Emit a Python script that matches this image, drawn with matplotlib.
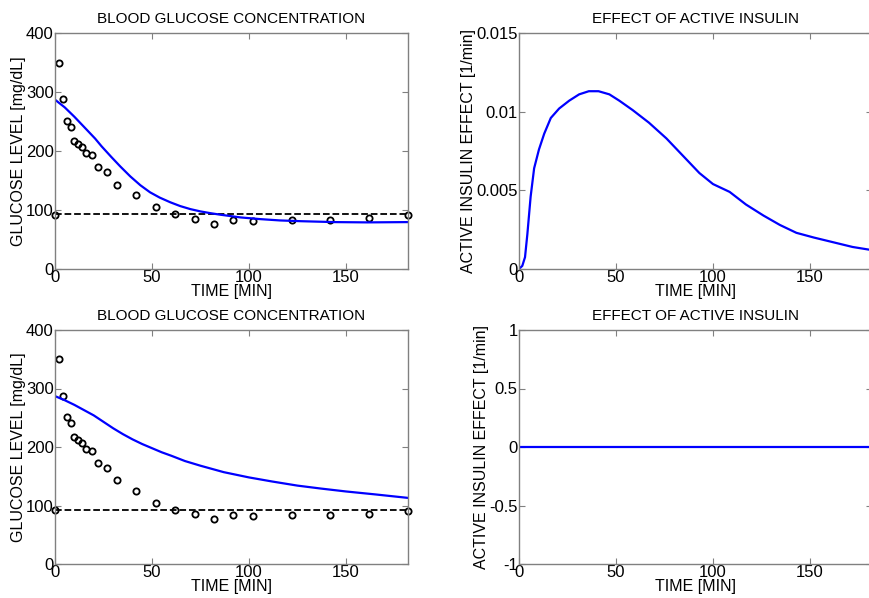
import numpy as np
import matplotlib
matplotlib.use('Agg')
import matplotlib.pyplot as plt

plt.rcParams['font.family'] = ['Liberation Sans', 'DejaVu Sans']

# Measured glucose samples
t_meas = [0, 2, 4, 6, 8, 10, 12, 14, 16, 19, 22, 27, 32, 42, 52, 62, 72, 82, 92, 102, 122, 142, 162, 182]
g_meas = [92, 350, 288, 251, 241, 217, 212, 206, 197, 193, 173, 164, 143, 125, 105, 93, 85, 77, 83, 82, 83, 83, 86, 91]
g_basal = 93

# Model fit, top row (with insulin effect)
t_fit1 = [0, 5, 10, 15.5, 20.7, 24, 29, 33.6, 38.8, 44, 49, 54, 59.5, 64.6, 69.8, 75, 80,
          85.3, 95.7, 106, 116, 127, 144, 161, 182]
g_fit1 = [287, 274, 258, 239, 221, 208, 190, 174, 157, 142, 130, 121, 113, 106.6, 101.5, 97.6, 94.7,
          92, 87.4, 84.5, 82.3, 81, 79.5, 79, 79.5]

# Model fit, bottom row (no insulin effect)
t_fit2 = [0, 5, 10, 15, 20, 25, 30, 35, 40, 45, 50, 55, 60, 67, 75, 87, 100, 112, 125, 137, 150, 165, 182]
g_fit2 = [287, 280, 272, 263, 254, 243, 232, 222, 213, 205, 198, 191, 185, 176, 168, 157, 148, 141,
          134, 129, 124, 119, 113]

# Active insulin effect, top row
t_eff = [0, 1.7, 3.1, 4.3, 6, 7.8, 10.3, 13, 16.4, 20.7, 25.9, 31, 36, 41, 46.6, 51.7, 58.6, 67,
         76, 84.5, 93, 100, 108.6, 117, 126, 134.5, 143, 152, 162, 172, 182]
eff = [0, 0.0002, 0.00075, 0.0022, 0.0046, 0.0064, 0.0076, 0.0086, 0.0096, 0.0102, 0.0107, 0.0111,
       0.0113, 0.0113, 0.0111, 0.0107, 0.0101, 0.0093, 0.0083, 0.0072, 0.0061, 0.0054, 0.0049,
       0.0041, 0.0034, 0.0028, 0.0023, 0.0020, 0.0017, 0.0014, 0.0012]

# Active insulin effect, bottom row (zero)
t_eff0 = [0, 182]
eff0 = [0, 0]

W, H = 869, 598
fig = plt.figure(figsize=(W / 100, H / 100), dpi=100)

def make_ax(x0, y0, x1, y1):
    return fig.add_axes([x0 / W, 1 - y1 / H, (x1 - x0) / W, (y1 - y0) / H])

ax_tl = make_ax(55, 33, 408, 269)
ax_tr = make_ax(519, 33, 872, 269)
ax_bl = make_ax(55, 330, 408, 564)
ax_br = make_ax(519, 330, 872, 564)

gray = '#808080'

def style(ax):
    for s in ax.spines.values():
        s.set_color(gray)
        s.set_linewidth(1.0)
    ax.tick_params(direction='in', top=True, right=True, colors=gray,
                   labelcolor='black', labelsize=12, length=4, pad=1)
    ax.set_xlim(0, 182)
    ax.set_xticks([0, 50, 100, 150])
    ax.set_xlabel('TIME [MIN]', fontsize=11.5, labelpad=-1)

for ax in (ax_tl, ax_bl):
    ax.plot(t_meas, g_meas, 'o', mfc='none', mec='black', mew=1.3, ms=4.5, clip_on=False)
    ax.axhline(g_basal, color='black', ls='--', lw=1.3)
    ax.set_ylim(0, 400)
    ax.set_yticks([0, 100, 200, 300, 400])
    ax.set_title('BLOOD GLUCOSE CONCENTRATION', fontsize=11, pad=7)
    ax.set_ylabel('GLUCOSE LEVEL [mg/dL]', fontsize=11.5, labelpad=0)
    style(ax)

ax_tl.plot(t_fit1, g_fit1, color='#0000ff', lw=1.6)
ax_bl.plot(t_fit2, g_fit2, color='#0000ff', lw=1.6)

ax_tr.plot(t_eff, eff, color='#0000ff', lw=1.6)
ax_tr.set_ylim(0, 0.015)
ax_tr.set_yticks([0, 0.005, 0.01, 0.015])
ax_tr.set_yticklabels(['0', '0.005', '0.01', '0.015'])

ax_br.plot(t_eff0, eff0, color='#0000ff', lw=1.6)
ax_br.set_ylim(-1, 1)
ax_br.set_yticks([-1, -0.5, 0, 0.5, 1])
ax_br.set_yticklabels(['-1', '-0.5', '0', '0.5', '1'])

for ax in (ax_tr, ax_br):
    ax.set_title('EFFECT OF ACTIVE INSULIN', fontsize=11, pad=7)
    ax.set_ylabel('ACTIVE INSULIN EFFECT [1/min]', fontsize=11.5, labelpad=0)
    style(ax)

fig.savefig('out.png', dpi=100)
